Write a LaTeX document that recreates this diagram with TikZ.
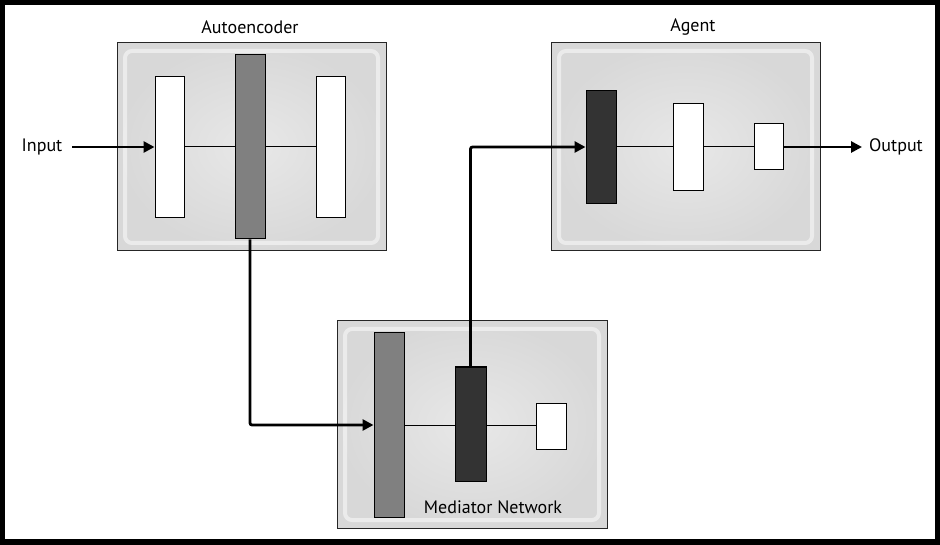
\documentclass[tikz,border=0pt]{standalone}
\usepackage{fontspec}
\setmainfont{PT Sans}
\usetikzlibrary{arrows.meta,positioning}
\definecolor{boxin}{HTML}{E8E8E8}
\definecolor{boxout}{HTML}{D8D8D8}
\definecolor{midgray}{HTML}{808080}
\definecolor{darkbar}{HTML}{333333}
\tikzset{
  panel/.style={draw=black!85, line width=1pt, inner color=boxin, outer color=boxout},
  gloss/.style={draw=white, opacity=0.5, line width=4pt, rounded corners=7pt},
  bar/.style={draw=black, line width=1pt, inner sep=0pt, anchor=center},
  wbar/.style={bar, fill=white},
  gbar/.style={bar, fill=midgray},
  dbar/.style={bar, fill=darkbar},
  link/.style={line width=1pt},
  flow/.style={line width=2.8pt, -{Triangle[length=11pt,width=11pt]}, rounded corners=2pt},
  lbl/.style={font=\fontsize{18}{20}\selectfont, inner sep=0pt}
}
\begin{document}
\begin{tikzpicture}[x=1pt,y=-1pt]
\fill[black] (0,0) rectangle (940,545);
\fill[white] (5,5) rectangle (935,539);
\useasboundingbox (0,0) rectangle (940,545);

% panels
\shade[panel] (117,43) rectangle (386,251);
\draw[gloss] (125,51) rectangle (378,243);
\shade[panel] (337,321) rectangle (607,528);
\draw[gloss] (345,329) rectangle (599,520);
\shade[panel] (551,43) rectangle (820,251);
\draw[gloss] (559,51) rectangle (812,243);

% titles
\node[lbl] (tae) at (250,27) {Autoencoder};
\node[lbl] (tag) at (693,27) {Agent};
\node[lbl] (tmn) at (493,507) {Mediator Network};
\node[lbl] (in) at (42,147) {Input};
\node[lbl] (out) at (896,147) {Output};

% autoencoder bars
\node[wbar, minimum width=29pt, minimum height=141pt] (ae1) at (169.5,147.5) {};
\node[gbar, minimum width=30pt, minimum height=184pt] (ae2) at (250,147) {};
\node[wbar, minimum width=29pt, minimum height=141pt] (ae3) at (330.5,147.5) {};
% mediator bars
\node[gbar, minimum width=30pt, minimum height=184pt] (m1) at (389,425) {};
\node[dbar, minimum width=31pt, minimum height=114pt] (m2) at (470.5,424) {};
\node[wbar, minimum width=30pt, minimum height=46pt] (m3) at (551,426) {};
% agent bars
\node[dbar, minimum width=30pt, minimum height=113pt] (a1) at (601,147.5) {};
\node[wbar, minimum width=30pt, minimum height=87pt] (a2) at (688,147.5) {};
\node[wbar, minimum width=29pt, minimum height=46pt] (a3) at (768.5,147) {};

% internal links
\draw[link] (ae1.east |- 0,147) -- (ae2.west |- 0,147);
\draw[link] (ae2.east |- 0,147) -- (ae3.west |- 0,147);
\draw[link] (m1.east |- 0,425) -- (m2.west |- 0,425);
\draw[link] (m2.east |- 0,425) -- (m3.west |- 0,425);
\draw[link] (a1.east |- 0,147) -- (a2.west |- 0,147);
\draw[link] (a2.east |- 0,147) -- (a3.west |- 0,147);

% flows
\coordinate (inS) at (72,147);
\coordinate (outE) at (862,147);
\draw[flow] (inS) -- (ae1.west |- inS);
\draw[flow] (ae2.south) |- (m1.west |- 0,425);
\draw[flow] (m2.north) |- (a1.west |- 0,147);
\draw[flow] (a3.east |- 0,147) -- (outE);
\end{tikzpicture}
\end{document}
